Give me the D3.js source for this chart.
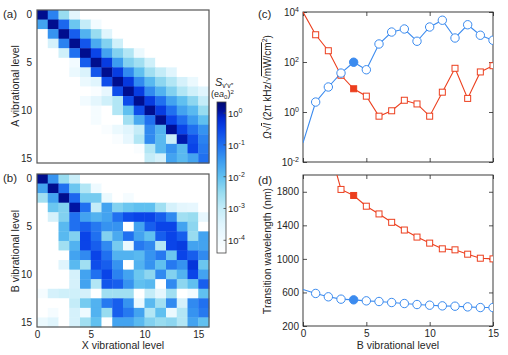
<!DOCTYPE html>
<html lang="en">
<head>
<meta charset="utf-8">
<title>Vibrational levels</title>
<script src="https://cdn.jsdelivr.net/npm/d3@7"></script>
<style>
body { margin: 0; background: #fff; }
svg { font-family: "Liberation Sans", Arial, sans-serif; }
</style>
</head>
<body>
<div id="chart"></div>
<script>
// vibrational levels 0..15
var levels = [0, 1, 2, 3, 4, 5, 6, 7, 8, 9, 10, 11, 12, 13, 14, 15];
var xTicks = [0, 5, 10, 15];

// log10 of S_v'v'' (-5 = blank / white)
var W = -5;
var heatA = [
  [0.15, -1.2, -2.5, -3.6, W, W, W, W, W, W, W, W, W, W, W, W],
  [-1.6, 0.15, -0.9, -2.1, -3.0, -4.0, W, W, W, W, W, W, W, W, W, W],
  [W, -1.4, 0.15, -0.8, -1.8, -2.5, -3.5, W, W, W, W, W, W, W, W, W],
  [W, -3.3, -1.2, 0.15, -0.7, -1.7, -2.3, -3.2, W, W, W, W, W, W, W, W],
  [W, W, -3.2, -1.0, 0.15, -0.5, -1.6, -2.3, -2.8, -3.8, W, W, W, W, W, W],
  [W, W, W, -4.0, -0.8, 0.15, -0.4, -1.5, -2.3, -2.6, -3.2, W, W, W, W, W],
  [W, W, W, -3.8, -3.4, -0.7, 0.15, -0.4, -1.3, -2.0, -2.6, -3.0, -3.5, W, W, W],
  [W, W, W, W, -3.8, -3.5, -0.6, 0.15, -0.35, -1.3, -1.9, -2.4, -2.8, -3.3, -3.8, W],
  [W, W, W, W, W, -4.2, -3.7, -0.6, 0.15, -0.4, -1.3, -1.8, -2.3, -2.8, -3.2, -3.5],
  [W, W, W, W, -4.0, -3.6, -3.2, -2.8, -0.6, 0.15, -0.4, -1.0, -1.6, -2.0, -2.4, -3.0],
  [W, W, W, W, W, -4.1, W, -2.8, -2.0, -0.6, 0.15, -0.4, -1.0, -1.6, -1.9, -2.5],
  [W, W, W, W, W, -4.1, W, W, -2.6, -1.7, -1.0, 0.15, -0.5, -1.0, -1.5, -2.0],
  [W, W, W, W, W, W, -4.2, -3.8, -3.5, -3.0, -1.3, -1.8, 0.1, -0.5, -1.0, -1.4],
  [W, W, W, W, W, W, W, -4.2, -3.7, -2.8, -1.3, -1.9, -3.1, 0.0, -0.6, -1.2],
  [W, W, W, W, W, W, W, W, W, -4.2, -2.8, -1.9, -1.4, -1.9, -0.5, -1.1],
  [W, W, W, W, W, W, W, W, W, W, -3.0, -3.3, -1.6, -1.9, -1.6, -1.0]
];
var heatB = [
  [0.15, -1.4, -2.5, -3.1, W, W, W, W, W, W, W, W, W, W, W, W],
  [-1.6, 0.15, -1.0, -2.1, -2.8, -3.9, W, W, W, W, W, W, W, W, W, W],
  [-2.6, -1.6, 0.15, -0.9, -2.2, -2.2, -3.8, W, -4.1, W, W, W, W, W, W, W],
  [W, -2.1, -2.3, 0.05, -1.0, -3.0, -1.6, -2.3, -2.1, -2.0, -2.0, -2.6, -3.3, -3.6, -3.7, W],
  [W, -3.3, -2.3, -1.0, -1.6, -1.8, -1.6, -1.0, -0.6, -0.5, -0.5, -0.8, -1.3, -2.6, -2.5, -3.7],
  [W, W, -1.9, -1.0, -0.8, -1.1, -1.4, -1.4, W, -1.6, -0.8, -0.5, -0.5, -1.6, -2.4, W],
  [W, W, -1.9, -2.3, -0.5, -1.0, -2.3, -1.7, -1.0, -1.6, -2.0, -0.8, -0.5, -0.8, -2.5, -1.6],
  [W, W, -2.6, -1.8, -0.5, -0.8, -1.3, -2.2, -3.8, -1.1, -1.3, -2.8, -0.5, -0.4, -1.6, -1.6],
  [W, W, W, -1.6, -1.3, -0.5, -1.0, -1.8, -1.8, -1.9, -1.4, -1.1, -2.1, -0.5, -0.8, -1.3],
  [W, W, -3.5, -1.9, -2.6, -0.6, -0.8, -1.4, W, -1.8, -1.4, -2.0, -1.1, -1.4, -0.3, -2.1],
  [W, W, W, -3.3, -1.6, -1.0, -0.5, -1.2, -1.6, -2.1, -2.4, -1.3, -2.3, -1.8, -0.5, -1.6],
  [W, W, W, -3.3, -1.6, -2.8, -0.7, -0.8, -1.4, -2.0, -1.9, W, -1.3, -2.4, -2.0, -0.8],
  [-4.1, -3.3, -3.2, -3.2, -3.3, W, -2.6, -2.6, -2.6, W, -3.0, -3.6, -2.6, W, -4.0, -2.0],
  [W, W, W, -3.0, -2.2, -1.8, -1.1, -0.8, -1.4, -3.8, -1.9, -2.6, -1.3, -3.3, -1.3, -1.0],
  [W, -4.1, W, -3.3, -3.9, -1.8, -2.5, -0.8, -1.1, -1.6, -2.8, -2.0, -3.8, -2.8, -1.4, -1.1],
  [-3.8, -3.5, W, -3.3, -2.6, -2.0, W, -1.6, -1.6, -1.9, -2.3, -2.5, -2.4, -2.8, -1.6, -2.0]
];
var cbTicks = [0, -1, -2, -3, -4];

// (c) coupling strength, (d) transition wavelength
var rabiBlue = [0.058, 2.5, 10, 36, 98, 49, 525, 1580, 2090, 676, 2510, 4680, 912, 3090, 1175, 741];
var rabiRed = [10000, 1230, 282, 29.5, 8.5, 4.3, 0.68, 1.12, 2.95, 2.1, 0.68, 6.2, 56, 3.5, 40, 71];
var waveBlue = [636, 588, 548, 520, 512, 500, 492, 480, 468, 456, 448, 440, 436, 428, 420, 420];
var waveRed = [4500, 3200, 2370, 1828, 1756, 1628, 1536, 1436, 1344, 1260, 1188, 1120, 1108, 1056, 1008, 1000];
var picked = 4;
var rabiTicks = [0.01, 1, 100, 10000];
var waveTicks = [200, 600, 1000, 1400, 1800];

var blue = "#3b8bef", red = "#ec3f1e", ink = "#262626";

var svg = d3.select("#chart").append("svg")
  .attr("width", 508).attr("height", 355);

// colour map of the two images
var cmap = d3.scaleLinear()
  .domain([-4.4, -4.0, -3.5, -3.0, -2.5, -2.0, -1.5, -1.0, -0.5, -0.15, 0.1, 0.35])
  .range(["#ffffff", "#f2fbff", "#e0f5fd", "#c4ecf8", "#98dcf0", "#60c0f0", "#3c9cf0", "#2070f0", "#0a44e8", "#0028d0", "#000f96", "#000a70"])
  .clamp(true);

function sup(text, base, exp) {
  text.text(null);
  text.append("tspan").text(base);
  text.append("tspan").attr("dy", -4).attr("font-size", "7px").text(exp);
}

var hx = d3.scaleLinear().domain([0, 16]).range([37, 209]);

function heatmap(data, y0, y1, showX) {
  var hy = d3.scaleLinear().domain([-0.5, 15.5]).range([y0, y1]);
  var cells = [];
  data.forEach(function (row, r) {
    row.forEach(function (v, c) { cells.push({r: r, c: c, v: v}); });
  });
  var g = svg.append("g");
  g.selectAll("rect.cell").data(cells).enter().append("rect")
    .attr("class", "cell")
    .attr("x", function (d) { return hx(d.c); })
    .attr("y", function (d) { return hy(d.r - 0.5); })
    .attr("width", hx(1) - hx(0) + 0.4)
    .attr("height", hy(1) - hy(0) + 0.4)
    .attr("fill", function (d) { return cmap(d.v); });
  g.append("rect")
    .attr("x", 37).attr("y", y0).attr("width", 172).attr("height", y1 - y0)
    .attr("fill", "none").attr("stroke", "#555").attr("stroke-width", 1.2);

  var ya = g.append("g").attr("transform", "translate(37,0)")
    .call(d3.axisLeft(hy).tickValues(xTicks).tickSize(0).tickPadding(5));
  ya.select(".domain").remove();
  ya.selectAll("text").attr("font-size", "10px").attr("fill", ink).attr("font-family", null);

  if (showX) {
    var xa = g.append("g").attr("transform", "translate(0," + y1 + ")")
      .call(d3.axisBottom(hx).tickValues(xTicks).tickSize(0).tickPadding(4));
    xa.select(".domain").remove();
    xa.selectAll("text").attr("font-size", "10px").attr("fill", ink).attr("font-family", null);
  }
}

heatmap(heatA, 10, 163, false);
heatmap(heatB, 174, 327, true);

svg.append("text").attr("transform", "translate(19,86) rotate(-90)")
  .attr("text-anchor", "middle").attr("font-size", "10.5px").attr("fill", ink)
  .text("A vibrational level");
svg.append("text").attr("transform", "translate(19,251) rotate(-90)")
  .attr("text-anchor", "middle").attr("font-size", "10.5px").attr("fill", ink)
  .text("B vibrational level");
svg.append("text").attr("x", 123).attr("y", 349)
  .attr("text-anchor", "middle").attr("font-size", "10.5px").attr("fill", ink)
  .text("X vibrational level");

// colour bar
var cbY = d3.scaleLinear().domain([-4.4, 0.35]).range([253, 102]);
var grad = svg.append("defs").append("linearGradient")
  .attr("id", "cb").attr("x1", 0).attr("y1", 1).attr("x2", 0).attr("y2", 0);
cmap.domain().forEach(function (d, i) {
  grad.append("stop")
    .attr("offset", (d + 4.4) / 4.75)
    .attr("stop-color", cmap.range()[i]);
});
svg.append("rect").attr("x", 217).attr("y", 102).attr("width", 9).attr("height", 151)
  .attr("fill", "url(#cb)").attr("stroke", "#444").attr("stroke-width", 0.8);
cbTicks.forEach(function (t) {
  svg.append("line").attr("x1", 223.5).attr("x2", 226).attr("y1", cbY(t)).attr("y2", cbY(t))
    .attr("stroke", "#444").attr("stroke-width", 0.8);
  svg.append("text").attr("x", 228).attr("y", cbY(t) + 4)
    .attr("font-size", "9.5px").attr("fill", ink)
    .call(sup, "10", t === 0 ? "0" : "-" + (-t));
});
var ct = svg.append("text").attr("x", 215).attr("y", 86).attr("fill", ink);
ct.append("tspan").attr("font-size", "11px").attr("font-style", "italic").text("S");
ct.append("tspan").attr("font-size", "7px").attr("dy", 2).text("v\u2032v\u2033");
var ct2 = svg.append("text").attr("x", 211).attr("y", 97).attr("fill", ink).attr("font-size", "9px");
ct2.append("tspan").text("(e");
ct2.append("tspan").attr("font-style", "italic").text("a");
ct2.append("tspan").attr("font-size", "6px").attr("dy", 1.5).text("0");
ct2.append("tspan").attr("dy", -1.5).text(")");
ct2.append("tspan").attr("font-size", "6px").attr("dy", -3).text("2");

// panel letters
[["(a)", 3, 18], ["(b)", 3, 182], ["(c)", 258, 18], ["(d)", 258, 184]].forEach(function (p) {
  svg.append("text").attr("x", p[1]).attr("y", p[2]).attr("font-size", "11.5px")
    .attr("fill", ink).text(p[0]);
});

// right-hand line panels
var lx = d3.scaleLinear().domain([0, 15]).range([303, 493]);

function linePanel(id, yScale, yTicks, top, bottom, serA, serB, labelX) {
  var g = svg.append("g");
  g.append("clipPath").attr("id", id).append("rect")
    .attr("x", 303).attr("y", top).attr("width", 190).attr("height", bottom - top);

  var yl = g.append("g").attr("transform", "translate(303,0)")
    .call(d3.axisLeft(yScale).tickValues(yTicks).tickSizeInner(-4).tickSizeOuter(0).tickPadding(4)
      .tickFormat(d3.format("d")));
  var yr = g.append("g").attr("transform", "translate(493,0)")
    .call(d3.axisRight(yScale).tickValues(yTicks).tickSizeInner(-4).tickSizeOuter(0).tickFormat(""));
  var xb = g.append("g").attr("transform", "translate(0," + bottom + ")")
    .call(d3.axisBottom(lx).tickValues(xTicks).tickSizeInner(-4).tickSizeOuter(0).tickPadding(4)
      .tickFormat(labelX ? d3.format("d") : ""));
  var xt = g.append("g").attr("transform", "translate(0," + top + ")")
    .call(d3.axisTop(lx).tickValues(xTicks).tickSizeInner(-4).tickSizeOuter(0).tickFormat(""));
  [yl, yr, xb, xt].forEach(function (a) {
    a.select(".domain").remove();
    a.selectAll("line").attr("stroke", ink).attr("stroke-width", 0.8);
    a.selectAll("text").attr("font-size", "10px").attr("fill", ink).attr("font-family", null);
  });
  g.append("rect").attr("x", 303).attr("y", top).attr("width", 190).attr("height", bottom - top)
    .attr("fill", "none").attr("stroke", ink).attr("stroke-width", 0.9);

  var plot = g.append("g").attr("clip-path", "url(#" + id + ")");
  var line = d3.line().x(function (d, i) { return lx(levels[i]); }).y(function (d) { return yScale(d); });

  plot.append("path").datum(serA).attr("d", line)
    .attr("fill", "none").attr("stroke", red).attr("stroke-width", 1.1);
  plot.append("path").datum(serB).attr("d", line)
    .attr("fill", "none").attr("stroke", blue).attr("stroke-width", 1.1);

  var ptsA = serA.map(function (v, i) { return {i: i, v: v}; }).filter(function (d) { return d.i > 0; });
  var ptsB = serB.map(function (v, i) { return {i: i, v: v}; }).filter(function (d) { return d.i > 0; });
  plot.selectAll("rect.sq").data(ptsA).enter().append("rect")
    .attr("class", "sq")
    .attr("x", function (d) { return lx(levels[d.i]) - 3; })
    .attr("y", function (d) { return yScale(d.v) - 3; })
    .attr("width", 6).attr("height", 6)
    .attr("fill", function (d) { return d.i === picked ? red : "#fff"; })
    .attr("stroke", red).attr("stroke-width", 1);
  plot.selectAll("circle.ci").data(ptsB).enter().append("circle")
    .attr("class", "ci")
    .attr("cx", function (d) { return lx(levels[d.i]); })
    .attr("cy", function (d) { return yScale(d.v); })
    .attr("r", 4.2)
    .attr("fill", function (d) { return d.i === picked ? blue : "#fff"; })
    .attr("stroke", blue).attr("stroke-width", 1);
  return yl;
}

var yc = d3.scaleLog().domain([0.01, 10000]).range([162, 12]);
var ylc = linePanel("clipC", yc, rabiTicks, 12, 162, rabiRed, rabiBlue, false);
ylc.selectAll(".tick text").each(function (d) {
  d3.select(this).call(sup, "10", String(Math.round(Math.log10(d))));
});

var yd = d3.scaleLinear().domain([200, 2000]).range([326, 175]);
linePanel("clipD", yd, waveTicks, 175, 326, waveRed, waveBlue, true);

var yLabC = svg.append("text").attr("transform", "translate(271,87) rotate(-90)")
  .attr("text-anchor", "middle").attr("font-size", "10px").attr("fill", ink);
yLabC.append("tspan").attr("font-style", "italic").text("\u03A9");
yLabC.append("tspan").text("\u221A");
yLabC.append("tspan").attr("font-style", "italic").attr("text-decoration", "overline").text("I");
yLabC.append("tspan").text(" (2\u03C0 kHz/\u221A");
yLabC.append("tspan").attr("text-decoration", "overline").text("mW/cm");
yLabC.append("tspan").attr("font-size", "7px").attr("dy", -4).text("2");
yLabC.append("tspan").attr("dy", 4).text(")");

svg.append("text").attr("transform", "translate(271,251) rotate(-90)")
  .attr("text-anchor", "middle").attr("font-size", "10.5px").attr("fill", ink)
  .text("Transition wavelength (nm)");
svg.append("text").attr("x", 398).attr("y", 349)
  .attr("text-anchor", "middle").attr("font-size", "10.5px").attr("fill", ink)
  .text("B vibrational level");
</script>
</body>
</html>
